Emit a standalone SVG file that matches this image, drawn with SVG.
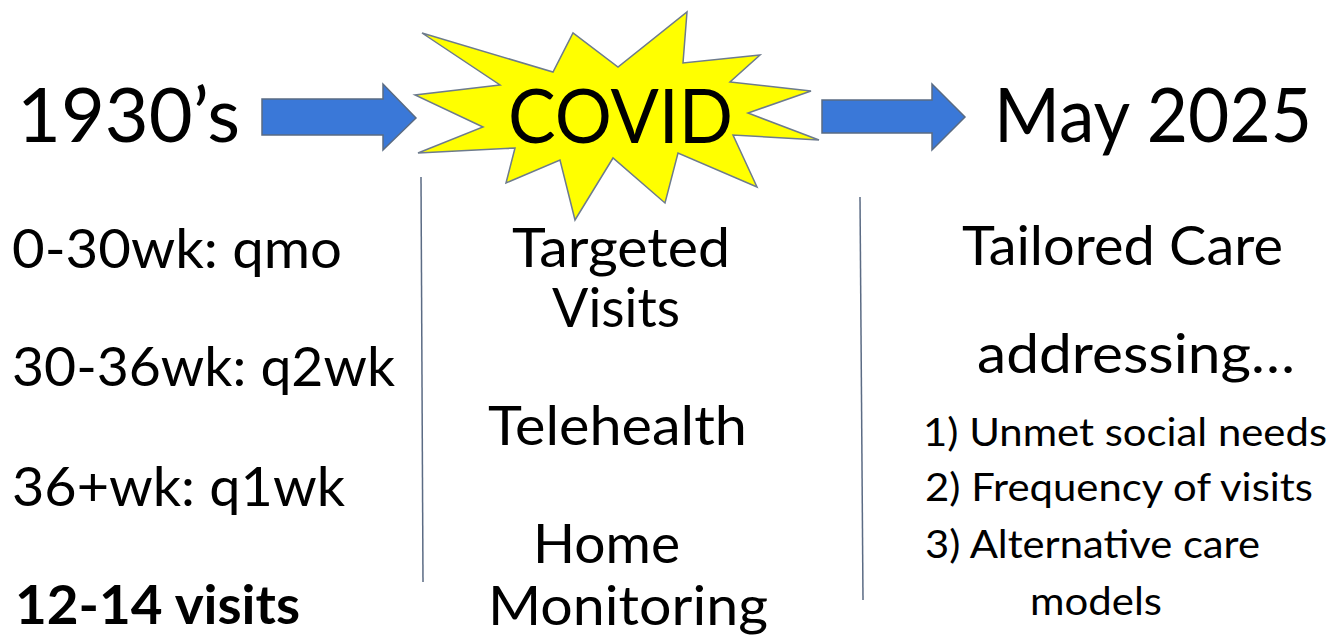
<svg xmlns="http://www.w3.org/2000/svg" width="1331" height="636" viewBox="0 0 1331 636">
<style>
  text { font-family: Lato, "Open Sans", "Liberation Sans", sans-serif; fill: #000; }
  .title { font-size: 76px; }
  .body { font-size: 54px; }
  .small { font-size: 38px; }
  .bold { font-weight: bold; }
  .blockarrow { fill: #3a78d8; stroke: #5a6b82; stroke-width: 1.5; }
  .star { fill: #ffff00; stroke: #6d7b8d; stroke-width: 1.5; stroke-linejoin: miter; }
  .sep { stroke: #5b6b84; stroke-width: 1.5; fill: none; }
</style>
<rect width="1331" height="636" fill="#ffffff"/>

<g id="connectors">
  <polygon class="blockarrow" points="262,99 383,99 383,84 416,118 383,150 383,135 262,135"/>
  <polygon class="blockarrow" points="822,100 932,100 932,84 965,117 932,150 932,133 822,133"/>
</g>

<g id="separators">
  <line class="sep" x1="421" y1="177" x2="423" y2="582"/>
  <line class="sep" x1="860" y1="197" x2="863" y2="600"/>
</g>

<g id="node-1930s">
  <text class="title" x="17" y="142" textLength="223" lengthAdjust="spacingAndGlyphs">1930’s</text>
  <text class="body" x="12" y="268" textLength="330" lengthAdjust="spacingAndGlyphs">0-30wk: qmo</text>
  <text class="body" x="12" y="386" textLength="383" lengthAdjust="spacingAndGlyphs">30-36wk: q2wk</text>
  <text class="body" x="12" y="506" textLength="333" lengthAdjust="spacingAndGlyphs">36+wk: q1wk</text>
  <text class="body bold" x="15" y="624" textLength="285" lengthAdjust="spacingAndGlyphs">12-14 visits</text>
</g>

<g id="node-covid">
  <polygon class="star" points="422,33 553,72 573,33 618,67 687,12 683,63 760,55 730,82 811,91 748,113 819,140 733,135 757,187 678,153 665,203 613,158 575,220 560,160 506,183 515,148 418,153 483,127 415,95 500,85"/>
  <text class="title" x="508" y="143" textLength="225" lengthAdjust="spacingAndGlyphs">COVID</text>
  <text class="body" x="512" y="267" textLength="218" lengthAdjust="spacingAndGlyphs">Targeted</text>
  <text class="body" x="552" y="327" textLength="128" lengthAdjust="spacingAndGlyphs">Visits</text>
  <text class="body" x="488" y="445" textLength="259" lengthAdjust="spacingAndGlyphs">Telehealth</text>
  <text class="body" x="533" y="563" textLength="147" lengthAdjust="spacingAndGlyphs">Home</text>
  <text class="body" x="488" y="625" textLength="280" lengthAdjust="spacingAndGlyphs">Monitoring</text>
</g>

<g id="node-may2025">
  <text class="title" x="994" y="142" textLength="318" lengthAdjust="spacingAndGlyphs">May 2025</text>
  <text class="body" x="962" y="265" textLength="321" lengthAdjust="spacingAndGlyphs">Tailored Care</text>
  <text class="body" x="977" y="373" textLength="318" lengthAdjust="spacingAndGlyphs">addressing…</text>
  <text class="small" x="923" y="446" textLength="404" lengthAdjust="spacingAndGlyphs">1) Unmet social needs</text>
  <text class="small" x="925" y="501" textLength="388" lengthAdjust="spacingAndGlyphs">2) Frequency of visits</text>
  <text class="small" x="925" y="558" textLength="335" lengthAdjust="spacingAndGlyphs">3) Alternative care</text>
  <text class="small" x="1030" y="615" textLength="132" lengthAdjust="spacingAndGlyphs">models</text>
</g>
</svg>
